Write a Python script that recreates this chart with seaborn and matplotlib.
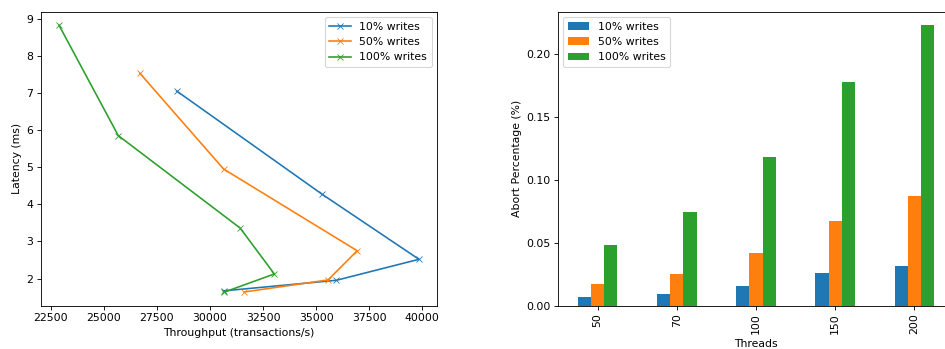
import pandas as pd
import numpy as np
import matplotlib
matplotlib.use("Agg")
import matplotlib.pyplot as plt
import seaborn as sns

# данные
threads = [50, 70, 100, 150, 200]
series = ["10% writes", "50% writes", "100% writes"]

throughput_10 = [30640, 35950, 39840, 35280, 28430]
throughput_50 = [31610, 35560, 36930, 30640, 26700]
throughput_100 = [30640, 33030, 31420, 25680, 22890]

latency_10 = [1.67, 1.955, 2.52, 4.27, 7.05]
latency_50 = [1.64, 1.965, 2.75, 4.95, 7.525]
latency_100 = [1.63, 2.125, 3.36, 5.85, 8.82]

abort_10 = [0.0069, 0.0095, 0.0153, 0.0259, 0.0317]
abort_50 = [0.0172, 0.0254, 0.0418, 0.0672, 0.0873]
abort_100 = [0.0481, 0.0741, 0.1185, 0.178, 0.223]

colors = ["#1f77b4", "#ff7f0e", "#2ca02c"]

# long-form таблицы
lat_df = pd.concat([
    pd.DataFrame({"throughput": t, "latency": l, "series": s, "threads": threads})
    for t, l, s in zip([throughput_10, throughput_50, throughput_100],
                       [latency_10, latency_50, latency_100], series)
], ignore_index=True)

abort_df = pd.concat([
    pd.DataFrame({"threads": [str(x) for x in threads], "abort": a, "series": s})
    for a, s in zip([abort_10, abort_50, abort_100], series)
], ignore_index=True)

# исходная картинка уменьшена примерно до 78 dpi
DPI = 78
fig = plt.figure(figsize=(945 / DPI, 349 / DPI), dpi=DPI)
ax1 = fig.add_axes([0.0434, 0.124, 0.419, 0.842])
ax2 = fig.add_axes([0.5905, 0.124, 0.419, 0.842])

# 1. Latency vs throughput
sns.lineplot(data=lat_df, x="throughput", y="latency", hue="series",
             palette=colors, sort=False, marker="x", markeredgecolor=None,
             linewidth=1.5, markersize=6, ax=ax1, estimator=None)
ax1.set_xlabel("Throughput (transactions/s)")
ax1.set_ylabel("Latency (ms)")
ax1.set_xticks([22500, 25000, 27500, 30000, 32500, 35000, 37500, 40000])
ax1.legend(loc="upper right", title=None)

# 2. Abort percentage by threads
sns.barplot(data=abort_df, x="threads", y="abort", hue="series",
            palette=colors, width=0.5, saturation=1, linewidth=0, ax=ax2)
ax2.set_xlim(-0.5, 4.5)
ax2.set_ylim(0, 0.2335)
ax2.set_xlabel("Threads")
ax2.set_ylabel("Abort Percentage (%)")
ax2.tick_params(axis="x", rotation=90)
ax2.legend(loc="upper left", title=None)

fig.savefig("out.png", dpi=DPI)
